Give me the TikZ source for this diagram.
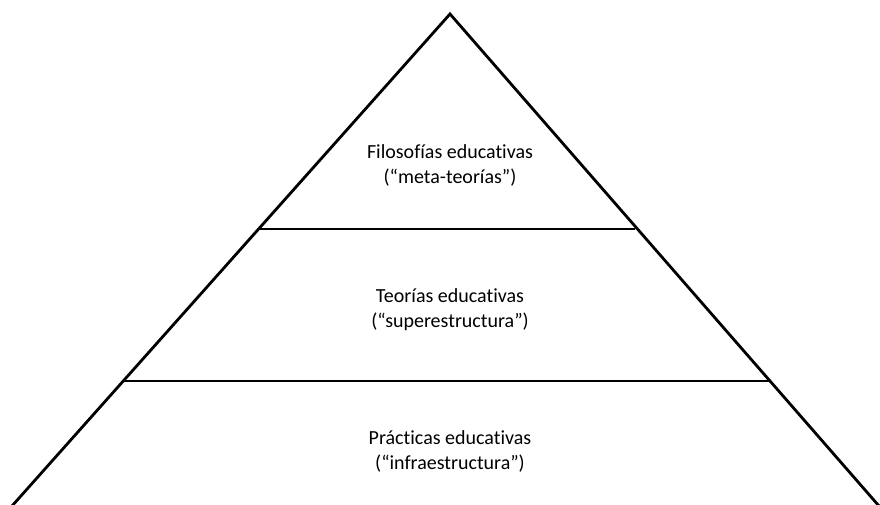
\documentclass[tikz,border=0pt]{standalone}
\usepackage{fontspec}
\setmainfont[Ligatures=NoCommon]{Carlito}
\usepackage{tikz}
\usetikzlibrary{calc}

\begin{document}
\begin{tikzpicture}[x=1pt,y=-1pt]
\useasboundingbox (0,0) rectangle (880,505);
\tikzset{level/.style={align=center,font=\fontsize{20}{25}\selectfont}}
\coordinate (T) at (450,14);
\coordinate (L) at (12,506);
\coordinate (R) at (879,506);
\coordinate (A) at ($(T)!0.437!(L)$);
\coordinate (B) at ($(T)!0.437!(R)$);
\coordinate (C) at ($(T)!0.746!(L)$);
\coordinate (D) at ($(T)!0.746!(R)$);

\draw[line width=2.8pt] (L) -- (T) -- (R);
\draw[line width=2.8pt] (A) -- ($(B)+(-2,0)$);
\draw[line width=2.8pt] (C) -- (D);

\node[level] (phil) at (450,165) {Filosofías educativas\\(“meta-teorías”)};
\node[level] (theo) at (450,310) {Teorías educativas\\(“superestructura”)};
\node[level] (prac) at (450,451) {Prácticas educativas\\(“infraestructura”)};
\end{tikzpicture}
\end{document}
